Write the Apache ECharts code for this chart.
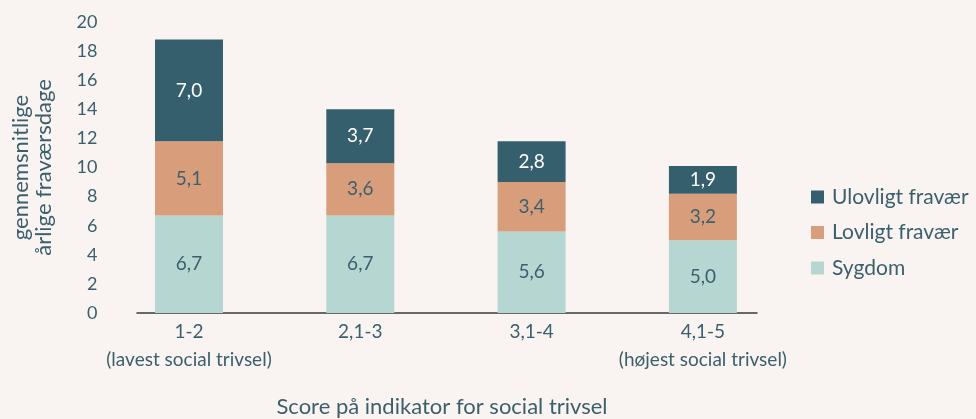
<!DOCTYPE html>
<html>
<head>
<meta charset="utf-8">
<script src="https://cdn.jsdelivr.net/npm/echarts@6/dist/echarts.min.js"></script>
<style>
html,body{margin:0;padding:0;background:#f9f4f1;}
#c{width:976px;height:419px;}
</style>
</head>
<body>
<div id="c"></div>
<script>
var categories = ['1-2\n(lavest social trivsel)', '2,1-3', '3,1-4', '4,1-5\n(højest social trivsel)'];
var sygdom = [6.7, 6.7, 5.6, 5.0];
var lovligt = [5.1, 3.6, 3.4, 3.2];
var ulovligt = [7.0, 3.7, 2.8, 1.9];
var yTicks = [0, 2, 4, 6, 8, 10, 12, 14, 16, 18, 20];

var FONT = 'Lato';
var TXT = '#3b5f6d';

function fmt(p) { return Number(p.value).toFixed(1).replace('.', ','); }

var chart = echarts.init(document.getElementById('c'), null, {renderer: 'canvas'});
chart.setOption({
  backgroundColor: '#f9f4f1',
  animation: false,
  textStyle: {fontFamily: FONT, color: TXT},
  grid: [
    {left: 103.35, right: 187.45, top: 22, bottom: 106, outerBoundsMode: 'none', containLabel: false},
    {left: 137, right: 219, top: 22, bottom: 106, outerBoundsMode: 'none', containLabel: false}
  ],
  legend: {
    orient: 'vertical',
    left: 811,
    top: 185,
    padding: 0,
    itemWidth: 13,
    itemHeight: 13,
    itemGap: 11.5,
    icon: 'rect',
    data: ['Ulovligt fravær', 'Lovligt fravær', 'Sygdom'],
    textStyle: {fontFamily: FONT, color: TXT, fontSize: 21, lineHeight: 24, padding: [0, 0, 0, 3]}
  },
  xAxis: [
    {
      type: 'category',
      gridIndex: 0,
      data: categories,
      axisLine: {show: false},
      axisTick: {show: false},
      axisLabel: {fontFamily: FONT, color: TXT, fontSize: 19, lineHeight: 28, margin: 5, interval: 0}
    },
    {
      type: 'value',
      gridIndex: 1,
      min: 0,
      max: 1,
      name: 'Score på indikator for social trivsel',
      nameLocation: 'middle',
      nameGap: 83,
      nameTextStyle: {fontFamily: FONT, color: TXT, fontSize: 22, padding: [0, 10, 0, 0]},
      splitLine: {show: false},
      axisTick: {show: false},
      axisLabel: {show: false},
      axisLine: {show: true, lineStyle: {color: '#3a3a3a', width: 1.5}}
    }
  ],
  yAxis: [
    {
      type: 'value',
      gridIndex: 0,
      min: 0,
      max: 20,
      interval: 2,
      name: 'gennemsnitlige\nårlige fraværsdage',
      nameLocation: 'middle',
      nameRotate: 90,
      nameGap: 48,
      nameTextStyle: {fontFamily: FONT, color: TXT, fontSize: 22, lineHeight: 23},
      splitLine: {show: false},
      axisLine: {show: false},
      axisTick: {show: false},
      axisLabel: {
        fontFamily: FONT, color: TXT, fontSize: 18, margin: 6,
        formatter: function (v) { return yTicks.indexOf(v) >= 0 ? String(v) : ''; }
      }
    },
    {
      type: 'value',
      gridIndex: 1,
      show: false,
      min: 0,
      max: 20
    }
  ],
  series: [
    {
      name: 'Sygdom', type: 'bar', stack: 'a', barWidth: 68,
      itemStyle: {color: '#b5d6d1'},
      label: {show: true, position: 'inside', formatter: fmt, fontFamily: FONT, fontSize: 19, color: TXT},
      data: sygdom
    },
    {
      name: 'Lovligt fravær', type: 'bar', stack: 'a', barWidth: 68,
      itemStyle: {color: '#d89e7b'},
      label: {show: true, position: 'inside', formatter: fmt, fontFamily: FONT, fontSize: 19, color: TXT},
      data: lovligt
    },
    {
      name: 'Ulovligt fravær', type: 'bar', stack: 'a', barWidth: 68,
      itemStyle: {color: '#365f6d'},
      label: {show: true, position: 'inside', formatter: fmt, fontFamily: FONT, fontSize: 19, color: '#ffffff'},
      data: ulovligt
    }
  ]
});
</script>
</body>
</html>
